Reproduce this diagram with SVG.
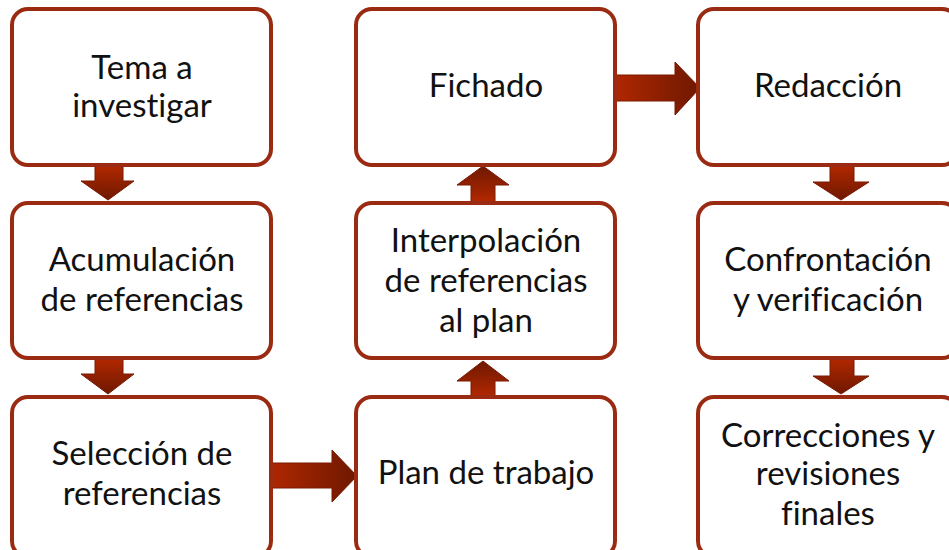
<svg xmlns="http://www.w3.org/2000/svg" width="949" height="550" viewBox="0 0 949 550">
<defs>
<linearGradient id="gh" x1="0" y1="0" x2="1" y2="0"><stop offset="0" stop-color="#b32800"/><stop offset="1" stop-color="#6e1800"/></linearGradient>
<linearGradient id="gv" x1="0" y1="0" x2="0" y2="1"><stop offset="0" stop-color="#b32800"/><stop offset="1" stop-color="#6e1800"/></linearGradient>
<linearGradient id="gu" x1="0" y1="1" x2="0" y2="0"><stop offset="0" stop-color="#b32800"/><stop offset="1" stop-color="#6e1800"/></linearGradient>
</defs>
<style>
.box{fill:#fff;stroke:#9a2b12;stroke-width:4}
.t{font-family:Lato,"Liberation Sans",sans-serif;font-size:33px;fill:#111;text-anchor:middle;font-variant-ligatures:none}
.ar{stroke:#7a1a05;stroke-width:1}
</style>
<rect width="949" height="550" fill="#fff"/>
<g id="connectors">
<path class="ar" fill="url(#gv)" d="M95,165 H123 V181 H134 L108,200 L81,181 H95 Z"/>
<path class="ar" fill="url(#gv)" d="M95,358 H123 V374 H134 L108,394 L81,374 H95 Z"/>
<path class="ar" fill="url(#gh)" d="M265,463 H332 V450 L357,476 L332,502 V488 H265 Z"/>
<path class="ar" fill="url(#gu)" d="M471,397 H495 V381 H509 L483,361 L457,381 H471 Z"/>
<path class="ar" fill="url(#gu)" d="M471,202 H495 V185 H509 L483,166 L457,185 H471 Z"/>
<path class="ar" fill="url(#gh)" d="M611,75 H675 V62 L700,88 L675,115 V101 H611 Z"/>
<path class="ar" fill="url(#gv)" d="M830,165 H854 V182 H869 L841,200 L813,182 H830 Z"/>
<path class="ar" fill="url(#gv)" d="M830,358 H854 V376 H869 L841,394 L813,376 H830 Z"/>
</g>
<g id="n1"><rect class="box" x="12" y="9" width="259" height="156" rx="16"/><text class="t" x="142" y="79">Tema a</text><text class="t" x="142" y="117">investigar</text></g>
<g id="n2"><rect class="box" x="12" y="203" width="259" height="155" rx="16"/><text class="t" x="142" y="271">Acumulación</text><text class="t" x="142" y="311">de referencias</text></g>
<g id="n3"><rect class="box" x="12" y="397" width="259" height="160" rx="16"/><text class="t" x="142" y="465">Selección de</text><text class="t" x="142" y="505">referencias</text></g>
<g id="n4"><rect class="box" x="356" y="397" width="259" height="160" rx="16"/><text class="t" x="486" y="484">Plan de trabajo</text></g>
<g id="n5"><rect class="box" x="356" y="203" width="259" height="155" rx="16"/><text class="t" x="486" y="252">Interpolación</text><text class="t" x="486" y="292">de referencias</text><text class="t" x="486" y="332">al plan</text></g>
<g id="n6"><rect class="box" x="356" y="9" width="259" height="156" rx="16"/><text class="t" x="486" y="97">Fichado</text></g>
<g id="n7"><rect class="box" x="698" y="9" width="260" height="156" rx="16"/><text class="t" x="828" y="97">Redacción</text></g>
<g id="n8"><rect class="box" x="698" y="203" width="260" height="155" rx="16"/><text class="t" x="828" y="271">Confrontación</text><text class="t" x="828" y="311">y verificación</text></g>
<g id="n9"><rect class="box" x="698" y="397" width="260" height="160" rx="16"/><text class="t" x="828" y="447">Correcciones y</text><text class="t" x="828" y="485">revisiones</text><text class="t" x="828" y="525">finales</text></g>
</svg>
